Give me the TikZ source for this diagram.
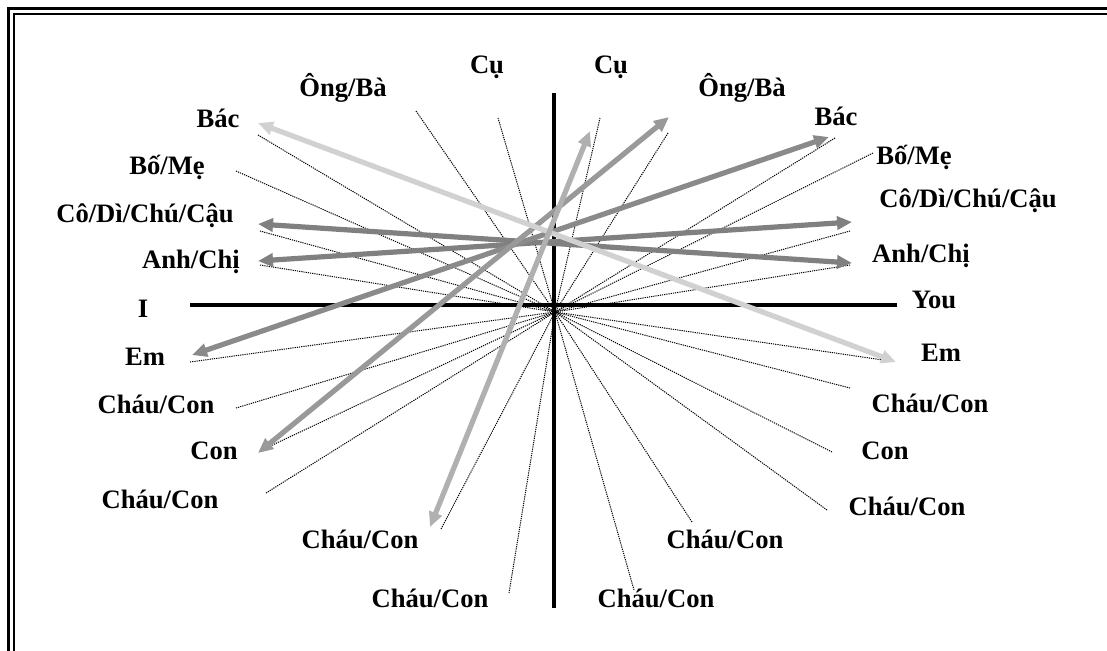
\documentclass[tikz,border=0pt]{standalone}
\usepackage{fontspec}
\setmainfont{Liberation Serif}
\usetikzlibrary{arrows.meta}
\begin{document}
\begin{tikzpicture}[x=0.5pt,y=-0.5pt,
  lbl/.style={font=\fontsize{13.3}{16}\selectfont\bfseries, inner sep=0pt, anchor=center},
  ray/.style={line width=0.5pt, dash pattern=on 0.6pt off 0.5pt, black},
  axis/.style={line width=2.2pt, black},
  dbl/.style={line width=2.6pt, {Triangle[length=7.5pt,width=6.5pt]}-{Triangle[length=7.5pt,width=6.5pt]}}]
\useasboundingbox (0,0) rectangle (1107,650);
\clip (0,0) rectangle (1107,650);
\fill[white] (0,0) rectangle (1107,650);
% border
\draw[line width=1.4pt] (8.6,660) -- (8.6,8.6) -- (1117,8.6);
\draw[line width=1.1pt] (13.6,660) -- (13.6,14) -- (1117,14);
% labels left
\node[lbl] (bacL) at (218,118) {Bác};
\node[lbl] (boL) at (167,167) {Bố/Mẹ};
\node[lbl] (coL) at (145,216) {Cô/Dì/Chú/Cậu};
\node[lbl] (anhL) at (191,262) {Anh/Chị};
\node[lbl] (iL) at (143,309) {I};
\node[lbl] (emL) at (145,357) {Em};
\node[lbl] (chauL1) at (156,404) {Cháu/Con};
\node[lbl] (conL) at (214,451) {Con};
\node[lbl] (chauL2) at (160,499) {Cháu/Con};
% bottom
\node[lbl] (chauB1) at (360,539) {Cháu/Con};
\node[lbl] (chauB2) at (430,598) {Cháu/Con};
\node[lbl] (chauB3) at (656,598) {Cháu/Con};
\node[lbl] (chauB4) at (725,539) {Cháu/Con};
% right
\node[lbl] (chauR2) at (907,506) {Cháu/Con};
\node[lbl] (conR) at (885,451) {Con};
\node[lbl] (chauR1) at (930,403) {Cháu/Con};
\node[lbl] (emR) at (941,353) {Em};
\node[lbl] (youR) at (934,300) {You};
\node[lbl] (anhR) at (921,256) {Anh/Chị};
\node[lbl] (coR) at (968,201) {Cô/Dì/Chú/Cậu};
\node[lbl] (boR) at (914,157) {Bố/Mẹ};
\node[lbl] (bacR) at (836,116) {Bác};
% top
\node[lbl] (ongL) at (343,88) {Ông/Bà};
\node[lbl] (cuL) at (487,67) {Cụ};
\node[lbl] (cuR) at (611,67) {Cụ};
\node[lbl] (ongR) at (742,88) {Ông/Bà};
% axes
\coordinate (axW) at (190,305);
\coordinate (axE) at (897,305);
\coordinate (axN) at (554,93);
\coordinate (axS) at (554,608);
\draw[axis] (axW) -- (axE);
\draw[axis] (axN) -- (axS);
% rays
\coordinate (c) at (555,312);
\foreach \n/\p in {dBacL/{258,135}, dBoL/{236,171}, dCoL/{260,231}, dAnhL/{260,265},
  dEmL/{190,362}, dChauL1/{236,408}, dConL/{264,449}, dChauL2/{266,493},
  dChauB1/{441,529}, dChauB2/{509,593}, dChauB3/{634,590}, dChauB4/{692,522},
  dChauR2/{827,510}, dConR/{832,452}, dChauR1/{850,388}, dEmR/{883,360},
  dAnhR/{850,265}, dCoR/{850,231}, dBoR/{873,153}, dBacR/{835,138},
  dOngR/{668,133}, dCuR/{600,118}, dCuL/{498,118}, dOngL/{416,111}}
{ \coordinate (\n) at (\p); \draw[ray] (\n) -- (c); }
% arrows
\coordinate (a2a) at (258,224); \coordinate (a2b) at (852,263);
\coordinate (a3a) at (258,261); \coordinate (a3b) at (852,222);
\coordinate (a4a) at (192,355); \coordinate (a4b) at (829,137);
\coordinate (a5a) at (258,453); \coordinate (a5b) at (669,117);
\coordinate (a1a) at (258,123); \coordinate (a1b) at (896,362);
\coordinate (a6a) at (430,527); \coordinate (a6b) at (590,131);
\draw[dbl, color=black!50] (a2a) -- (a2b);
\draw[dbl, color=black!50] (a3a) -- (a3b);
\draw[dbl, color=black!46] (a4a) -- (a4b);
\draw[dbl, color=black!40] (a5a) -- (a5b);
\draw[dbl, color=black!18] (a1a) -- (a1b);
\draw[dbl, color=black!31] (a6a) -- (a6b);
\end{tikzpicture}
\end{document}
